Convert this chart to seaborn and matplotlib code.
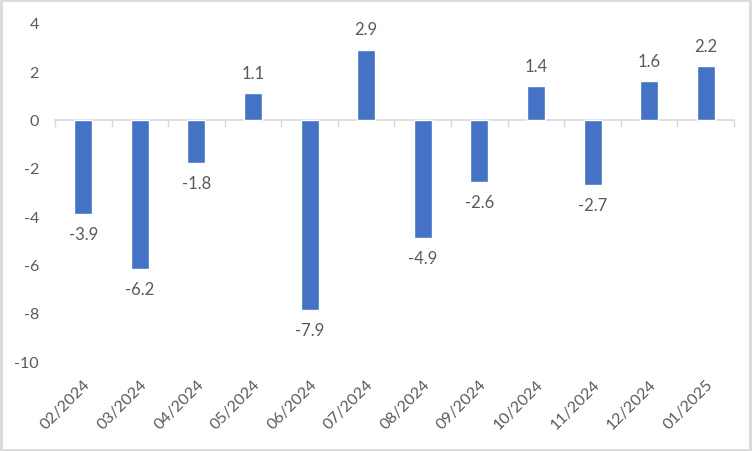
import numpy as np
import pandas as pd
import matplotlib
matplotlib.use("Agg")
import matplotlib.pyplot as plt
import seaborn as sns

# chart data
months = ["02/2024", "03/2024", "04/2024", "05/2024", "06/2024", "07/2024",
          "08/2024", "09/2024", "10/2024", "11/2024", "12/2024", "01/2025"]
values = [-3.9, -6.2, -1.8, 1.1, -7.9, 2.9, -4.9, -2.6, 1.4, -2.7, 1.6, 2.2]
y_ticks = [4, 2, 0, -2, -4, -6, -8, -10]

df = pd.DataFrame({"month": months, "value": values})

sns.set_style("white")
plt.rcParams["font.family"] = ["Lato", "DejaVu Sans"]
text_color = "#595959"
line_color = "#D9D9D9"

fig = plt.figure(figsize=(7.52, 4.52), dpi=100)
ax = fig.add_axes([0.0731, 0.199, 0.903, 0.748])

sns.barplot(data=df, x="month", y="value", color="#4472C4", width=0.32,
            saturation=1, ax=ax)

ax.set_ylim(-10, 4)
ax.set_xlim(-0.5, len(months) - 0.5)
ax.set_yticks(y_ticks)
ax.set_yticklabels([str(t) for t in y_ticks])
ax.tick_params(axis="y", length=0, labelsize=11.5, labelcolor=text_color, pad=11.5)
ax.set_xticks(range(len(months)))
ax.set_xticklabels(months, rotation=45, ha="right", rotation_mode="anchor")
ax.tick_params(axis="x", length=0, labelsize=11.5, labelcolor=text_color, pad=11)
ax.set_xlabel("")
ax.set_ylabel("")
for s in ax.spines.values():
    s.set_visible(False)

# zero line with category separators
zero_frac = (0 - (-10)) / 14
sec = ax.secondary_xaxis(zero_frac)
sec.set_xticks(np.arange(-0.5, len(months), 1))
sec.set_xticklabels([])
sec.xaxis.set_ticks_position("bottom")
sec.tick_params(direction="out", length=5, color=line_color, width=1)
for name, s in sec.spines.items():
    s.set_visible(name == "bottom")
sec.spines["bottom"].set_color(line_color)
sec.spines["bottom"].set_linewidth(1.2)

# data labels
for i, v in enumerate(values):
    off = 14.5 if v > 0 else -14.5
    ax.annotate(f"{v:.1f}", (i, v), xytext=(0, off), textcoords="offset points",
                ha="center", va="center", fontsize=12, color=text_color)

# figure border
fig.patches.append(plt.Rectangle((0.001, 0.002), 0.997, 0.995, transform=fig.transFigure,
                                 fill=False, edgecolor=line_color, linewidth=2))

fig.savefig("out.png", dpi=100)
